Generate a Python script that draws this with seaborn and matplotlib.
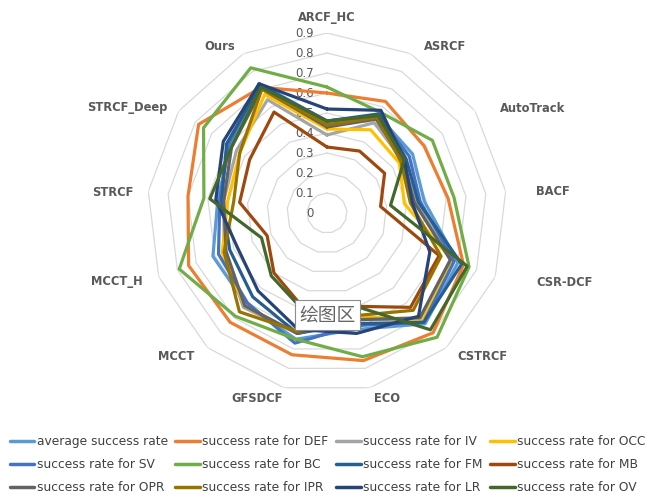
import numpy as np
import pandas as pd
import matplotlib
matplotlib.use("Agg")
import matplotlib.pyplot as plt
import matplotlib.transforms as mtransforms
from matplotlib.lines import Line2D
import seaborn as sns

# Trackers on the radar axes (clockwise from the top)
trackers = ["ARCF_HC", "ASRCF", "AutoTrack", "BACF", "CSR-DCF", "CSTRCF", "ECO",
            "GFSDCF", "MCCT", "MCCT_H", "STRCF", "STRCF_Deep", "Ours"]

series_names = ["average success rate", "success rate for DEF", "success rate for IV",
                "success rate for OCC", "success rate for SV", "success rate for BC",
                "success rate for FM", "success rate for MB", "success rate for OPR",
                "success rate for IPR", "success rate for LR", "success rate for OV"]

avg_rate = [0.45, 0.55, 0.52, 0.49, 0.70, 0.74, 0.60, 0.65, 0.61, 0.61, 0.55, 0.59, 0.73]
def_rate = [0.60, 0.63, 0.59, 0.61, 0.73, 0.80, 0.76, 0.73, 0.73, 0.74, 0.70, 0.78, 0.71]
iv_rate = [0.39, 0.51, 0.46, 0.45, 0.66, 0.71, 0.55, 0.62, 0.63, 0.55, 0.52, 0.55, 0.64]
occ_rate = [0.42, 0.47, 0.44, 0.39, 0.67, 0.72, 0.53, 0.62, 0.62, 0.56, 0.50, 0.53, 0.67]
sv_rate = [0.46, 0.55, 0.50, 0.47, 0.68, 0.73, 0.58, 0.67, 0.60, 0.58, 0.54, 0.60, 0.73]
bc_rate = [0.63, 0.57, 0.64, 0.64, 0.76, 0.83, 0.74, 0.65, 0.69, 0.79, 0.62, 0.75, 0.82]
fm_rate = [0.46, 0.56, 0.48, 0.46, 0.72, 0.73, 0.57, 0.62, 0.56, 0.52, 0.53, 0.61, 0.72]
mb_rate = [0.33, 0.35, 0.35, 0.27, 0.60, 0.63, 0.48, 0.49, 0.40, 0.32, 0.44, 0.47, 0.57]
opr_rate = [0.43, 0.53, 0.46, 0.44, 0.66, 0.70, 0.55, 0.62, 0.62, 0.54, 0.52, 0.58, 0.70]
ipr_rate = [0.44, 0.54, 0.45, 0.42, 0.61, 0.65, 0.53, 0.61, 0.66, 0.55, 0.47, 0.53, 0.70]
lr_rate = [0.52, 0.58, 0.47, 0.43, 0.55, 0.69, 0.62, 0.60, 0.52, 0.48, 0.56, 0.63, 0.73]
ov_rate = [0.46, 0.55, 0.47, 0.32, 0.75, 0.78, 0.47, 0.50, 0.42, 0.35, 0.59, 0.58, 0.71]

ring_ticks = [0, 0.1, 0.2, 0.3, 0.4, 0.5, 0.6, 0.7, 0.8, 0.9]

series_values = [avg_rate, def_rate, iv_rate, occ_rate, sv_rate, bc_rate,
                 fm_rate, mb_rate, opr_rate, ipr_rate, lr_rate, ov_rate]
colors = ["#5B9BD5", "#ED7D31", "#A5A5A5", "#FFC000", "#4472C4", "#70AD47",
          "#255E91", "#9E480E", "#636363", "#997300", "#264478", "#43682B"]

sns.set_theme(style="white")
plt.rcParams["font.family"] = ["DejaVu Sans", "Noto Sans CJK SC"]

n = len(trackers)
angles = np.linspace(0, 2 * np.pi, n, endpoint=False)
closed_angles = np.append(angles, 2 * np.pi)

rows = []
for name, vals in zip(series_names, series_values):
    closed_vals = list(vals) + [vals[0]]
    for a, v in zip(closed_angles, closed_vals):
        rows.append({"theta": a, "rate": v, "series": name})
df = pd.DataFrame(rows)

fig = plt.figure(figsize=(6.45, 4.99), dpi=100)
fig.patch.set_facecolor("white")
ax = fig.add_axes([0.2279, 0.2124, 0.5581, 0.7214], projection="polar")
ax.set_theta_zero_location("N")
ax.set_theta_direction(-1)
ax.set_facecolor("white")

# Polygonal grid rings
for v in ring_ticks[1:]:
    ax.plot(closed_angles, [v] * len(closed_angles), color="#D9D9D9", lw=0.9, zorder=0)

sns.lineplot(data=df, x="theta", y="rate", hue="series", hue_order=series_names,
             palette=colors, sort=False, estimator=None, lw=2.3, ax=ax,
             legend=False, zorder=2)

ax.set_ylim(0, 0.9)
ax.grid(False)
ax.set_xticks([])
ax.set_yticks([])
ax.set_xlabel("")
ax.set_ylabel("")
ax.spines["polar"].set_visible(False)

# Value labels along the top axis
offset = mtransforms.offset_copy(ax.transData, fig=fig, x=-13, y=0, units="dots")
for v in ring_ticks:
    ax.text(0, v, f"{v:g}", transform=offset, ha="right", va="center",
            fontsize=8.5, color="#595959", zorder=1)

# Category labels around the chart
label_pos = {
    "ARCF_HC": (327, 17), "ASRCF": (445, 47), "AutoTrack": (533, 108),
    "BACF": (553, 192), "CSR-DCF": (565, 283), "CSTRCF": (482, 357),
    "ECO": (387, 399), "GFSDCF": (257, 399), "MCCT": (176, 357),
    "MCCT_H": (117, 281), "STRCF": (113, 193), "STRCF_Deep": (127, 108),
    "Ours": (220, 47),
}
W, H = 645, 499
for name in trackers:
    px, py = label_pos[name]
    fig.text(px / W, 1 - py / H, name, ha="center", va="center",
             fontsize=8.3, fontweight="bold", color="#595959")

# Plot-area tag
fig.text(327.5 / W, 1 - 315 / H, "绘图区", ha="center", va="center",
         fontsize=13.5, family=["Noto Sans CJK SC"], color="#666666",
         bbox=dict(boxstyle="square,pad=0.25", fc="white", ec="#8C8C8C", lw=0.8),
         zorder=10)

# Legend laid out row by row (4 columns x 3 rows)
handles = [Line2D([0], [0], color=c, lw=2.5) for c in colors]
order = [0, 4, 8, 1, 5, 9, 2, 6, 10, 3, 7, 11]
fig.legend([handles[i] for i in order], [series_names[i] for i in order],
           loc="lower center", bbox_to_anchor=(0.508, -0.013), ncol=4, frameon=False,
           fontsize=8.8, handlelength=2.0, handletextpad=0.2, columnspacing=0.63,
           labelspacing=0.82, labelcolor="#404040")

fig.savefig("out.png", dpi=100, facecolor="white")
